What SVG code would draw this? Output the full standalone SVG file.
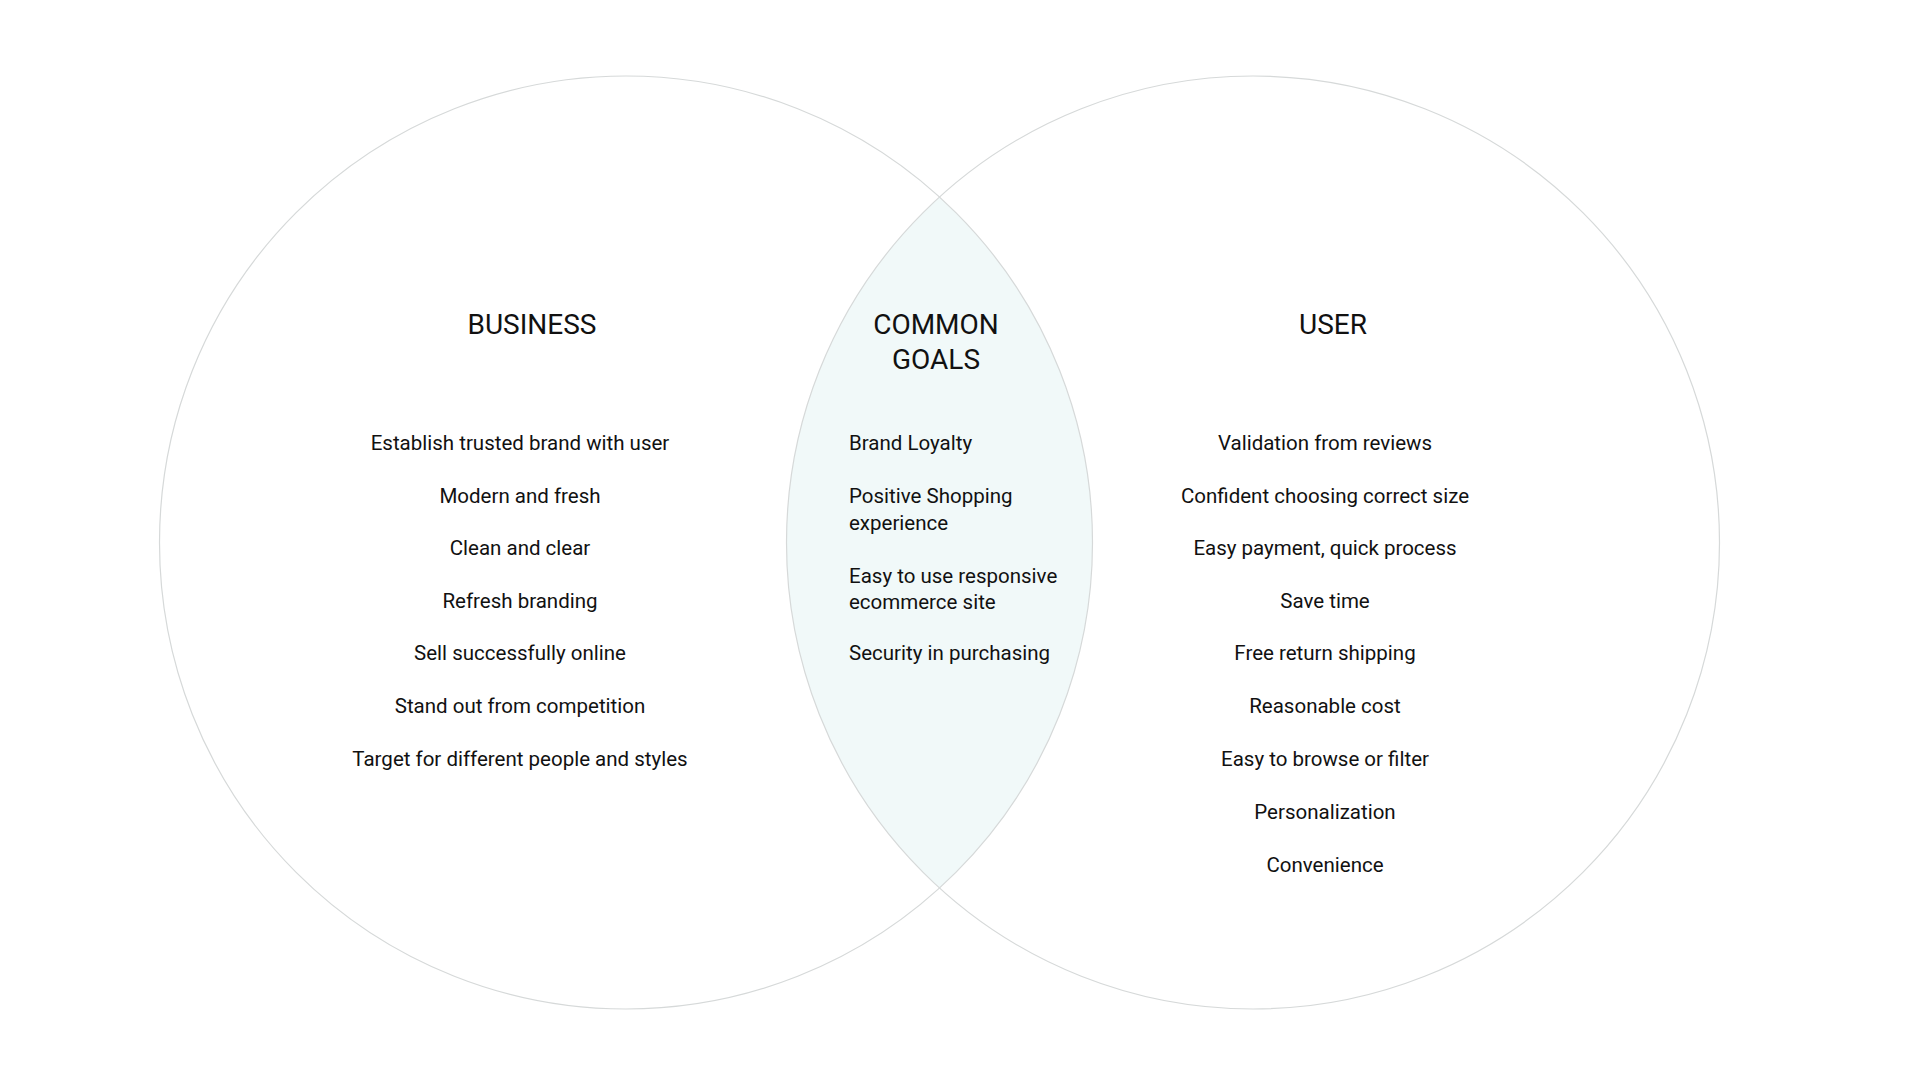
<svg xmlns="http://www.w3.org/2000/svg" width="1920" height="1080" viewBox="0 0 1920 1080">
<style>
.circle{fill:none;stroke:#d6d9d9;stroke-width:1.2}
.lens{fill:#f1f9f9;stroke:none}
.h{font-family:Roboto,"Liberation Sans",sans-serif;font-size:28px;fill:#111;text-anchor:middle}
.t{font-family:Roboto,"Liberation Sans",sans-serif;font-size:20.5px;fill:#111;text-anchor:middle}
.l{font-family:Roboto,"Liberation Sans",sans-serif;font-size:20.5px;fill:#111;text-anchor:start}
</style>
<defs>
<clipPath id="clipL"><circle cx="626" cy="542.5" r="466.5"/></clipPath>
</defs>
<rect width="1920" height="1080" fill="#fff"/>
<g id="overlap">
<circle class="lens" cx="1253" cy="542.5" r="466.5" clip-path="url(#clipL)"/>
</g>
<g id="business">
<circle class="circle" cx="626" cy="542.5" r="466.5"/>
<text class="h" x="532" y="334">BUSINESS</text>
<text class="t" x="520" y="450">Establish trusted brand with user</text>
<text class="t" x="520" y="502.5">Modern and fresh</text>
<text class="t" x="520" y="555">Clean and clear</text>
<text class="t" x="520" y="607.5">Refresh branding</text>
<text class="t" x="520" y="660">Sell successfully online</text>
<text class="t" x="520" y="713">Stand out from competition</text>
<text class="t" x="520" y="765.5">Target for different people and styles</text>
</g>
<g id="user">
<circle class="circle" cx="1253" cy="542.5" r="466.5"/>
<text class="h" x="1333" y="334">USER</text>
<text class="t" x="1325" y="450">Validation from reviews</text>
<text class="t" x="1325" y="502.5">Confident choosing correct size</text>
<text class="t" x="1325" y="555">Easy payment, quick process</text>
<text class="t" x="1325" y="607.5">Save time</text>
<text class="t" x="1325" y="660">Free return shipping</text>
<text class="t" x="1325" y="713">Reasonable cost</text>
<text class="t" x="1325" y="766">Easy to browse or filter</text>
<text class="t" x="1325" y="819">Personalization</text>
<text class="t" x="1325" y="872">Convenience</text>
</g>
<g id="common">
<text class="h" x="936" y="334">COMMON</text>
<text class="h" x="936" y="369">GOALS</text>
<text class="l" x="849" y="450">Brand Loyalty</text>
<text class="l" x="849" y="503">Positive Shopping</text>
<text class="l" x="849" y="529.5">experience</text>
<text class="l" x="849" y="582.5">Easy to use responsive</text>
<text class="l" x="849" y="608.5">ecommerce site</text>
<text class="l" x="849" y="660">Security in purchasing</text>
</g>
<g id="connectors"/>
</svg>
